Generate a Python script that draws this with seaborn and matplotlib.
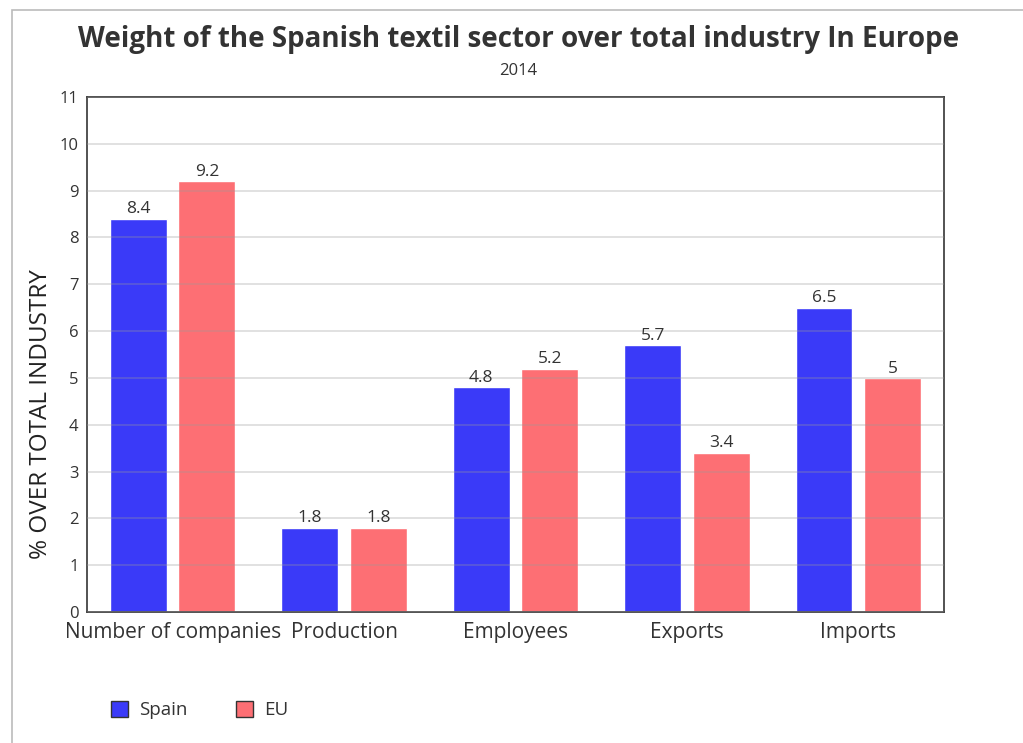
import matplotlib
matplotlib.use("Agg")
import matplotlib.pyplot as plt
import seaborn as sns
import pandas as pd
from matplotlib.patches import Rectangle, Patch

categories = ["Number of companies", "Production", "Employees", "Exports", "Imports"]
spain = [8.4, 1.8, 4.8, 5.7, 6.5]
eu = [9.2, 1.8, 5.2, 3.4, 5.0]
series = ["Spain", "EU"]
labels_spain = ["8.4", "1.8", "4.8", "5.7", "6.5"]
labels_eu = ["9.2", "1.8", "5.2", "3.4", "5"]
yticks = list(range(0, 12))

sns.set_theme(style="white")
plt.rcParams['font.family'] = ['Open Sans', 'DejaVu Sans']

df = pd.DataFrame({
    "category": categories * 2,
    "value": spain + eu,
    "series": ["Spain"] * 5 + ["EU"] * 5,
})

fig = plt.figure(figsize=(10.23, 7.43), dpi=100)
ax = fig.add_axes([0.085, 0.1763, 0.8378, 0.6931])

palette = {"Spain": "#3a3af8", "EU": "#fd6f74"}
sns.barplot(data=df, x="category", y="value", hue="series", hue_order=series,
            palette=palette, width=0.8, gap=0.17, saturation=1, ax=ax,
            legend=False, zorder=2)

for container, labs in zip(ax.containers, [labels_spain, labels_eu]):
    ax.bar_label(container, labels=labs, padding=1, fontsize=12.5, color="#333333")

ax.set_ylim(0, 11)
ax.set_yticks(yticks)
ax.set_yticklabels([str(t) for t in yticks], fontsize=12, color="#333333")
ax.tick_params(axis="y", length=0, pad=6)
ax.tick_params(axis="x", length=0, pad=7, labelsize=15, labelcolor="#333333")
ax.set_xlim(-0.5, 4.5)
ax.set_xlabel("")
ax.set_ylabel("% OVER TOTAL INDUSTRY", fontsize=17.5, color="#222222")
ax.yaxis.set_label_coords(-0.04, 0.385)
ax.yaxis.grid(True, color="#999999", alpha=0.35, linewidth=1.2, zorder=3)
ax.set_axisbelow(False)
for s in ax.spines.values():
    s.set_visible(True)
    s.set_color("#444444")
    s.set_linewidth(1.3)

fig.text(0.507, 0.947, "Weight of the Spanish textil sector over total industry In Europe",
         ha="center", va="center", fontsize=20, fontweight="bold", color="#333333")
fig.text(0.507, 0.905, "2014", ha="center", va="center", fontsize=12, color="#333333")

handles = [Patch(facecolor=palette[s], edgecolor="#333333", linewidth=1) for s in series]
fig.legend(handles, series, loc="center left", bbox_to_anchor=(0.092, 0.044),
           ncol=2, frameon=False, fontsize=13.5, handlelength=0.9, handleheight=0.9,
           columnspacing=2.6, handletextpad=0.6, labelcolor="#333333")

fig.patches.append(Rectangle((0.012, -0.01), 0.99, 0.997, transform=fig.transFigure,
                             fill=False, edgecolor="#bbbbbb", linewidth=1.2))

fig.savefig("out.png", dpi=100)
